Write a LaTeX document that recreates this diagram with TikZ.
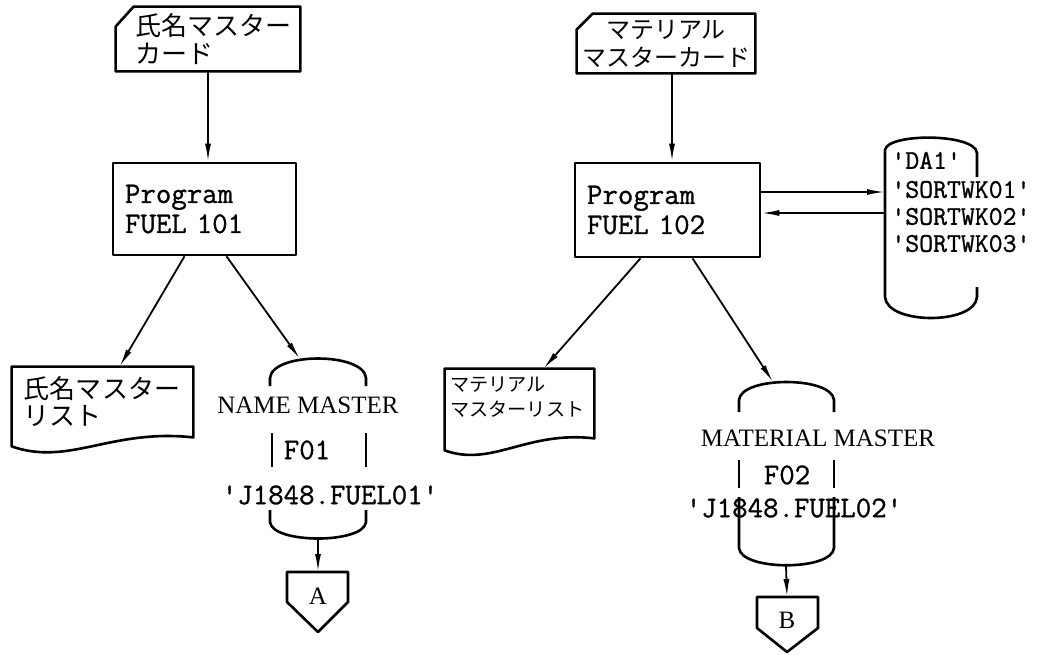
\documentclass[tikz,border=0pt]{standalone}
\usepackage{fontspec}
\setmonofont{Latin Modern Mono}[FakeBold=1]
\newfontfamily\jpfont{Noto Sans CJK JP}
\newfontfamily\capfont{Liberation Serif}
\usetikzlibrary{arrows.meta, calc, positioning}
\tikzset{
	shapeline/.style={line width=1.3pt, line join=round}
}
\tikzset{
	flowline/.style={line width=0.9pt, -{Latex[length=9pt,width=3pt]}}
}
\tikzset{
	progbox/.style={draw, shapeline, inner xsep=6pt, inner ysep=0pt, align=left, font=\ttfamily\fontsize{15}{15}\selectfont}
}
\tikzset{
	jptext/.style={inner sep=0pt, font=\jpfont\fontsize{13}{14}\selectfont}
}
\tikzset{
	ttlabel/.style={inner sep=1pt, font=\ttfamily\fontsize{15}{16}\selectfont},
	rmlabel/.style={inner sep=1pt, font=\capfont\fontsize{12.5}{13}\selectfont}
}

\begin{document}
\begin{tikzpicture}[x=0.5pt, y=-0.5pt]
  \useasboundingbox (0,0) rectangle (1053,654);

  \node[jptext, minimum width=92pt, minimum height=32pt, text width=73pt, align=left] (namecard) at (208,39) {氏名マスター\\カード};
  \draw[shapeline] (namecard.south west) -- ([yshift=-10pt]namecard.north west) -- ([xshift=9pt]namecard.north west) -- (namecard.north east) -- (namecard.south east) -- cycle;
  \node[jptext, minimum width=89pt, minimum height=29.5pt, align=center, font=\jpfont\fontsize{12}{14}\selectfont] (matcard) at (666,43.5) {マテリアル\\マスターカード};
  \draw[shapeline] (matcard.south west) -- ([yshift=-8pt]matcard.north west) -- ([xshift=8pt]matcard.north west) -- (matcard.north east) -- (matcard.south east) -- cycle;

  \node[progbox, text width=79.5pt, minimum height=46pt] (fuel101) at (204.5,209) {Program\\FUEL 101};
  \node[progbox, text width=80.5pt, minimum height=47pt] (fuel102) at (667.5,210) {Program\\FUEL 102};

  \node[jptext, text width=78.5pt, inner xsep=6pt, minimum height=34.5pt, align=left, font=\jpfont\fontsize{13}{13.5}\selectfont] (namelist) at (102.5,401.5) {氏名マスター\\リスト};
  \draw[shapeline] (namelist.north west) -- (namelist.north east) -- ([yshift=-0.5pt]namelist.south east) .. controls +(-83,-9) and +(58,20) .. ([yshift=-5pt]namelist.south west) -- cycle;
  \node[jptext, text width=69.5pt, inner xsep=2.5pt, minimum height=28.5pt, align=left, font=\jpfont\fontsize{9.6}{12.5}\selectfont] (matlist) at (519.5,397.5) {マテリアル\\マスターリスト};
  \draw[shapeline] (matlist.north west) -- (matlist.north east) -- ([yshift=-6pt]matlist.south east) .. controls +(-68,-8) and +(48,17) .. ([yshift=-12pt]matlist.south west) -- cycle;

  \draw[shapeline] (270,386) -- (270,378) .. controls (272,352) and (364,352) .. (366,378) -- (366,386);
  \draw[shapeline] (272,433) -- (272,467) (366,433) -- (366,467);
  \draw[shapeline] (270,510) -- (270,522) .. controls (272,544) and (364,544) .. (366,522) -- (366,510);
  \node[rmlabel] (namemaster) at (308,405) {NAME MASTER};
  \node[ttlabel] (f01) at (307,450) {F01};
  \node[ttlabel] (fuel01) at (330,495) {'J1848.FUEL01'};
  \coordinate (namein) at (300,359);
  \coordinate (nameout) at (318,538);

  \draw[shapeline] (739,412) -- (739,400) .. controls (741,376) and (832,376) .. (834,400) -- (834,412);
  \draw[shapeline] (739,460) -- (739,488) (834,460) -- (834,488);
  \draw[shapeline] (739,497) -- (739,548) .. controls (741,571) and (832,571) .. (834,548) -- (834,497);
  \node[rmlabel] (matmaster) at (818,438) {MATERIAL MASTER};
  \node[ttlabel] (f02) at (787,475) {F02};
  \node[ttlabel] (fuel02) at (794,508) {'J1848.FUEL02'};
  \coordinate (matin) at (773,382);
  \coordinate (matout) at (786,566);

  \draw[shapeline] (977,177) -- (977,153) .. controls (975,133) and (887,133) .. (885,150) -- (885,297) .. controls (887,325) and (975,325) .. (977,297) -- (977,287);
  \node[ttlabel, align=left, anchor=west, font=\ttfamily\fontsize{13.5}{13.5}\selectfont] (sortwk) at (889,202) {'DA1'\\[1pt]'SORTWK01'\\'SORTWK02'\\'SORTWK03'};
  \coordinate (sortin) at (885,192);
  \coordinate (sortout) at (885,213);

  \draw[shapeline] (287,572) -- (348,572) -- (348,602) -- (318,632) -- (287,602) -- cycle;
  \node[rmlabel] (offa) at (318,596) {A};
  \coordinate (atop) at (318,572);
  \draw[shapeline] (757,597) -- (818,597) -- (818,628) -- (787,652) -- (757,628) -- cycle;
  \node[rmlabel] (offb) at (787,620) {B};
  \coordinate (btop) at (787,597);

  \draw[flowline] (namecard.south) -- (namecard.south |- fuel101.north);
  \draw[flowline] ([xshift=3pt]matcard.south) -- ([xshift=3pt]matcard.south |- fuel102.north);
  \draw[flowline] ($(fuel101.south)+(-20,0)$) -- ($(namelist.north)+(17,0)$);
  \draw[flowline] ($(fuel101.south)+(22,0)$) -- (namein);
  \draw[flowline] ($(fuel102.south)+(-27,0)$) -- ($(matlist.north)+(24,0)$);
  \draw[flowline] ($(fuel102.south)+(25,0)$) -- (matin);
  \draw[flowline] (fuel102.east |- sortin) -- (sortin);
  \draw[flowline] (sortout) -- (fuel102.east |- sortout);
  \draw[flowline] (nameout) -- (atop);
  \draw[flowline] (matout) -- (btop);
\end{tikzpicture}
\end{document}
